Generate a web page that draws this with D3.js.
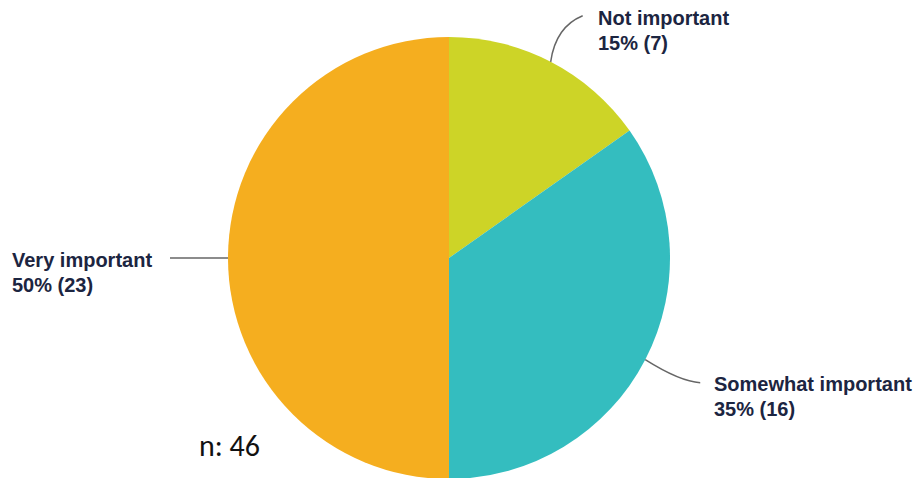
<!DOCTYPE html>
<html>
<head>
<meta charset="utf-8">
<script src="https://cdn.jsdelivr.net/npm/d3@7"></script>
<style>
  body { margin: 0; background: #fff; }
  svg { display: block; }
</style>
</head>
<body>
<svg id="pie-chart"></svg>
<script>
// data
const categories = ["Not important", "Somewhat important", "Very important"];
const counts = [7, 16, 23];
const percents = ["15%", "35%", "50%"];
const colors = ["#CDD427", "#34BDBF", "#F5AE1F"];
const total = 46;

const width = 920;
const height = 478;
const cx = 449, cy = 258, radius = 221;

const svg = d3.select("#pie-chart")
    .attr("width", width)
    .attr("height", height);

const pie = d3.pie().sort(null).value(d => d);
const arcs = pie(counts);

const arc = d3.arc().innerRadius(0).outerRadius(radius);

const g = svg.append("g").attr("transform", "translate(" + cx + "," + cy + ")");

g.selectAll("path.slice")
    .data(arcs)
    .enter().append("path")
    .attr("class", "slice")
    .attr("d", arc)
    .attr("fill", (d, i) => colors[i]);

// label layout: leader end offset (from arc edge point) and text anchor point
const labelLayout = [
    { dx: 32, dy: -46, bend: [5, -35], tx: 598, ty: 25 },
    { dx: 55, dy: 23, bend: [35, 22], tx: 714, ty: 391 },
    { dx: -58, dy: 0, bend: null, tx: 12, ty: 267 }
];

arcs.forEach(function(d, i) {
    const mid = (d.startAngle + d.endAngle) / 2;
    const x0 = cx + radius * Math.sin(mid);
    const y0 = cy - radius * Math.cos(mid);
    const L = labelLayout[i];
    const x1 = x0 + L.dx, y1 = y0 + L.dy;
    let path;
    if (L.bend) {
        const bx = x0 + L.bend[0], by = y0 + L.bend[1];
        path = "M" + x0 + "," + y0 + " Q" + bx + "," + by + " " + x1 + "," + y1;
    } else {
        path = "M" + x0 + "," + y0 + " L" + x1 + "," + y1;
    }
    svg.append("path")
        .attr("d", path)
        .attr("fill", "none")
        .attr("stroke", "#666")
        .attr("stroke-width", 1.5);

    const t = svg.append("text")
        .attr("x", L.tx)
        .attr("y", L.ty)
        .style("font-family", "'Liberation Sans', Arial, sans-serif")
        .style("font-size", "20px")
        .style("font-weight", "bold")
        .style("fill", "#1c2541");
    t.append("tspan").attr("x", L.tx).text(categories[i]);
    t.append("tspan").attr("x", L.tx).attr("dy", 25)
        .text(percents[i] + " (" + counts[i] + ")");
});

// sample size
svg.append("text")
    .attr("x", 199)
    .attr("y", 456)
    .style("font-family", "Carlito, Calibri, 'Open Sans', sans-serif")
    .style("font-size", "30px")
    .style("fill", "#111")
    .text("n: " + total);
</script>
</body>
</html>
